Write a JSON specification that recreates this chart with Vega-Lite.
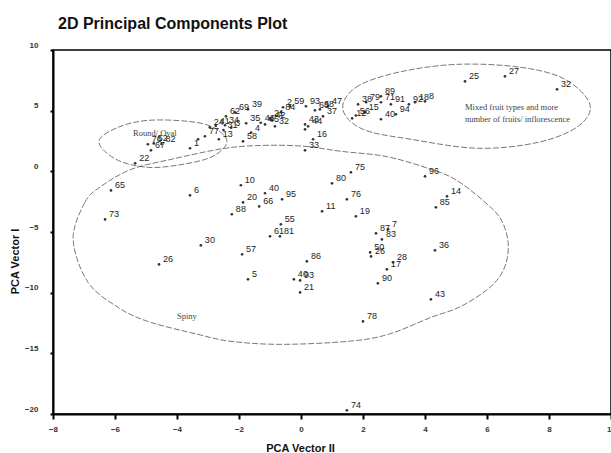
{
  "$schema": "https://vega.github.io/schema/vega-lite/v6.json",
  "width": 558,
  "height": 364,
  "autosize": "none",
  "padding": {"left": 53, "top": 50, "right": 0, "bottom": 39},
  "background": "white",
  "title": {"text": "2D Principal Components Plot", "anchor": "start", "frame": "group", "dx": 5, "dy": 26, "offset": 22, "baseline": "alphabetic", "font": "Liberation Sans", "fontSize": 16, "fontWeight": "bold", "color": "#111"},
  "config": {
    "view": {"stroke": "black", "strokeWidth": 1.5},
    "axis": {"grid": false, "domainColor": "black", "domainWidth": 2, "tickColor": "black", "tickWidth": 2, "tickSize": 5, "labelFont": "Liberation Sans", "labelFontSize": 8, "labelFontWeight": "bold", "labelColor": "#333", "labelFlush": false, "labelOverlap": false, "titleFont": "Liberation Sans", "titleFontSize": 11, "titleFontWeight": "bold", "titleColor": "#111"}
  },
  "datasets": {
    "points": [
      {"id": "76", "x": -4.94, "y": 2.23}, {"id": "52", "x": -4.75, "y": 2.3}, {"id": "82", "x": -4.5, "y": 2.25},
      {"id": "67", "x": -4.84, "y": 1.73}, {"id": "22", "x": -5.35, "y": 0.66}, {"id": "1", "x": -3.58, "y": 1.9},
      {"id": "", "x": -3.32, "y": 2.64}, {"id": "77", "x": -3.1, "y": 2.89}, {"id": "13", "x": -2.65, "y": 2.64},
      {"id": "24", "x": -2.94, "y": 3.63}, {"id": "41", "x": -2.75, "y": 3.75}, {"id": "34", "x": -2.45, "y": 3.8},
      {"id": "31", "x": -2.5, "y": 3.4}, {"id": "3", "x": -2.25, "y": 3.6}, {"id": "62", "x": -2.42, "y": 4.53},
      {"id": "69", "x": -2.13, "y": 4.86}, {"id": "39", "x": -1.71, "y": 5.11}, {"id": "35", "x": -1.77, "y": 3.96},
      {"id": "4", "x": -1.61, "y": 3.2}, {"id": "58", "x": -1.87, "y": 2.47}, {"id": "45", "x": -1.16, "y": 3.87},
      {"id": "46", "x": -1.3, "y": 4.0}, {"id": "21", "x": -1.0, "y": 4.37}, {"id": "42", "x": -0.95, "y": 4.2},
      {"id": "32", "x": -0.84, "y": 3.71}, {"id": "2", "x": -0.58, "y": 5.28}, {"id": "59", "x": -0.35, "y": 5.35},
      {"id": "84", "x": -0.64, "y": 4.86}, {"id": "93", "x": 0.16, "y": 5.36}, {"id": "63", "x": 0.45, "y": 5.03},
      {"id": "68", "x": 0.61, "y": 5.11}, {"id": "47", "x": 0.87, "y": 5.36}, {"id": "37", "x": 0.71, "y": 4.53},
      {"id": "43", "x": 0.13, "y": 3.87}, {"id": "44", "x": 0.23, "y": 3.71}, {"id": "", "x": 0.13, "y": 3.46},
      {"id": "16", "x": 0.39, "y": 2.64}, {"id": "33", "x": 0.13, "y": 1.73},
      {"id": "12", "x": 1.65, "y": 4.37}, {"id": "56", "x": 1.77, "y": 4.6}, {"id": "15", "x": 2.06, "y": 4.86},
      {"id": "38", "x": 1.84, "y": 5.52}, {"id": "79", "x": 2.1, "y": 5.69}, {"id": "89", "x": 2.58, "y": 6.18},
      {"id": "71", "x": 2.58, "y": 5.69}, {"id": "91", "x": 2.9, "y": 5.52}, {"id": "40", "x": 2.58, "y": 4.29},
      {"id": "94", "x": 3.06, "y": 4.7}, {"id": "92", "x": 3.48, "y": 5.52}, {"id": "18", "x": 3.68, "y": 5.69},
      {"id": "8", "x": 4.0, "y": 5.77}, {"id": "25", "x": 5.29, "y": 7.42}, {"id": "27", "x": 6.58, "y": 7.83},
      {"id": "32", "x": 8.26, "y": 6.76},
      {"id": "65", "x": -6.13, "y": -1.57}, {"id": "6", "x": -3.58, "y": -1.98}, {"id": "73", "x": -6.32, "y": -3.96},
      {"id": "30", "x": -3.23, "y": -6.1}, {"id": "26", "x": -4.58, "y": -7.67}, {"id": "10", "x": -1.94, "y": -1.15},
      {"id": "40", "x": -1.16, "y": -1.81}, {"id": "95", "x": -0.61, "y": -2.31}, {"id": "20", "x": -1.87, "y": -2.56},
      {"id": "66", "x": -1.35, "y": -2.89}, {"id": "88", "x": -2.23, "y": -3.54}, {"id": "55", "x": -0.65, "y": -4.37},
      {"id": "61", "x": -1.0, "y": -5.36}, {"id": "81", "x": -0.68, "y": -5.36}, {"id": "57", "x": -1.9, "y": -6.84},
      {"id": "5", "x": -1.71, "y": -8.9}, {"id": "86", "x": 0.19, "y": -7.42}, {"id": "40", "x": -0.23, "y": -8.9},
      {"id": "93", "x": -0.03, "y": -8.99}, {"id": "21", "x": -0.03, "y": -9.98}, {"id": "75", "x": 1.61, "y": -0.08},
      {"id": "80", "x": 1.0, "y": -0.99}, {"id": "76", "x": 1.48, "y": -2.31}, {"id": "11", "x": 0.68, "y": -3.3},
      {"id": "19", "x": 1.77, "y": -3.71}, {"id": "87", "x": 2.42, "y": -5.11}, {"id": "83", "x": 2.61, "y": -5.61},
      {"id": "7", "x": 2.81, "y": -4.78}, {"id": "50", "x": 2.23, "y": -6.68}, {"id": "26", "x": 2.26, "y": -7.01},
      {"id": "28", "x": 2.97, "y": -7.5}, {"id": "17", "x": 2.77, "y": -8.08}, {"id": "90", "x": 2.48, "y": -9.23},
      {"id": "96", "x": 4.0, "y": -0.41}, {"id": "14", "x": 4.71, "y": -2.06}, {"id": "85", "x": 4.35, "y": -2.97},
      {"id": "36", "x": 4.32, "y": -6.51}, {"id": "43", "x": 4.19, "y": -10.55}, {"id": "78", "x": 2.0, "y": -12.37},
      {"id": "74", "x": 1.48, "y": -19.7}
    ],
    "ellipses": [
      {"group": "round", "i": 1, "x": -6.52, "y": 2.47}, {"group": "round", "i": 2, "x": -5.9, "y": 3.63},
      {"group": "round", "i": 3, "x": -4.94, "y": 4.2}, {"group": "round", "i": 4, "x": -3.65, "y": 4.12},
      {"group": "round", "i": 5, "x": -2.84, "y": 3.63}, {"group": "round", "i": 6, "x": -2.39, "y": 2.47},
      {"group": "round", "i": 7, "x": -2.84, "y": 1.24}, {"group": "round", "i": 8, "x": -3.81, "y": 0.58},
      {"group": "round", "i": 9, "x": -4.94, "y": 0.33}, {"group": "round", "i": 10, "x": -5.97, "y": 0.99},
      {"group": "mixed", "i": 1, "x": 1.35, "y": 5.11}, {"group": "mixed", "i": 2, "x": 1.77, "y": 6.92},
      {"group": "mixed", "i": 3, "x": 3.13, "y": 8.16}, {"group": "mixed", "i": 4, "x": 5.06, "y": 8.82},
      {"group": "mixed", "i": 5, "x": 7.1, "y": 8.57}, {"group": "mixed", "i": 6, "x": 8.52, "y": 7.58},
      {"group": "mixed", "i": 7, "x": 9.32, "y": 5.52}, {"group": "mixed", "i": 8, "x": 8.94, "y": 3.71},
      {"group": "mixed", "i": 9, "x": 7.65, "y": 2.39}, {"group": "mixed", "i": 10, "x": 5.71, "y": 1.9},
      {"group": "mixed", "i": 11, "x": 3.55, "y": 2.64}, {"group": "mixed", "i": 12, "x": 2.0, "y": 3.46},
      {"group": "spiny", "i": 1, "x": -7.35, "y": -5.61}, {"group": "spiny", "i": 2, "x": -6.97, "y": -2.56},
      {"group": "spiny", "i": 3, "x": -6.45, "y": -1.24}, {"group": "spiny", "i": 4, "x": -5.48, "y": 0.16},
      {"group": "spiny", "i": 5, "x": -4.19, "y": 0.99}, {"group": "spiny", "i": 6, "x": -2.45, "y": 1.9},
      {"group": "spiny", "i": 7, "x": -1.16, "y": 2.14}, {"group": "spiny", "i": 8, "x": 0.13, "y": 2.06},
      {"group": "spiny", "i": 9, "x": 1.29, "y": 1.65}, {"group": "spiny", "i": 10, "x": 2.71, "y": 1.24},
      {"group": "spiny", "i": 11, "x": 4.0, "y": 0.33}, {"group": "spiny", "i": 12, "x": 4.97, "y": -0.66},
      {"group": "spiny", "i": 13, "x": 5.94, "y": -2.56}, {"group": "spiny", "i": 14, "x": 6.45, "y": -3.96},
      {"group": "spiny", "i": 15, "x": 6.68, "y": -5.85}, {"group": "spiny", "i": 16, "x": 6.58, "y": -7.83},
      {"group": "spiny", "i": 17, "x": 6.13, "y": -9.48}, {"group": "spiny", "i": 18, "x": 5.16, "y": -11.13},
      {"group": "spiny", "i": 19, "x": 4.19, "y": -12.04}, {"group": "spiny", "i": 20, "x": 2.81, "y": -13.44},
      {"group": "spiny", "i": 21, "x": 1.52, "y": -14.01}, {"group": "spiny", "i": 22, "x": -0.65, "y": -14.26},
      {"group": "spiny", "i": 23, "x": -2.26, "y": -14.01}, {"group": "spiny", "i": 24, "x": -3.32, "y": -13.44},
      {"group": "spiny", "i": 25, "x": -4.94, "y": -12.37}, {"group": "spiny", "i": 26, "x": -5.9, "y": -11.21},
      {"group": "spiny", "i": 27, "x": -6.87, "y": -9.15}
    ],
    "notes": [
      {"note": "Round/ Oval", "x": -5.42, "y": 3.13},
      {"note": "Mixed fruit types and more", "x": 5.29, "y": 5.28},
      {"note": "number of fruits/ inflorescence", "x": 5.29, "y": 4.29},
      {"note": "Spiny", "x": -4.0, "y": -11.95}
    ]
  },
  "encoding": {
    "x": {"field": "x", "type": "quantitative", "scale": {"domain": [-8, 10], "nice": false, "zero": false},
      "axis": {"title": "PCA Vector II", "values": [-8, -6, -4, -2, 0, 2, 4, 6, 8, 10], "labelPadding": 6, "titleX": 247, "titleY": 34, "titleBaseline": "middle", "titleAlign": "center", "titleAnchor": null}},
    "y": {"field": "y", "type": "quantitative", "scale": {"domain": [-20, 10], "nice": false, "zero": false},
      "axis": {"title": "PCA Vector I", "values": [-20, -15, -10, -5, 0, 5, 10], "tickSize": 3, "labelPadding": 12, "labelOffset": -5, "titleX": -38, "titleY": 211, "titleBaseline": "middle", "titleAlign": "center", "titleAngle": -90}}
  },
  "layer": [
    {
      "data": {"name": "ellipses"},
      "mark": {"type": "line", "interpolate": "cardinal-closed", "strokeDash": [6, 2], "strokeWidth": 0.8, "color": "#555"},
      "encoding": {"detail": {"field": "group"}, "order": {"field": "i", "type": "quantitative"}}
    },
    {
      "data": {"name": "points"},
      "mark": {"type": "circle", "size": 7, "color": "#333", "opacity": 1}
    },
    {
      "data": {"name": "points"},
      "mark": {"type": "text", "align": "left", "baseline": "middle", "dx": 4, "dy": -5, "font": "Liberation Sans", "fontSize": 9, "color": "#222"},
      "encoding": {"text": {"field": "id"}}
    },
    {
      "data": {"name": "notes"},
      "mark": {"type": "text", "align": "left", "baseline": "middle", "font": "Liberation Serif", "fontSize": 8.5, "color": "#444"},
      "encoding": {"text": {"field": "note"}}
    }
  ]
}
